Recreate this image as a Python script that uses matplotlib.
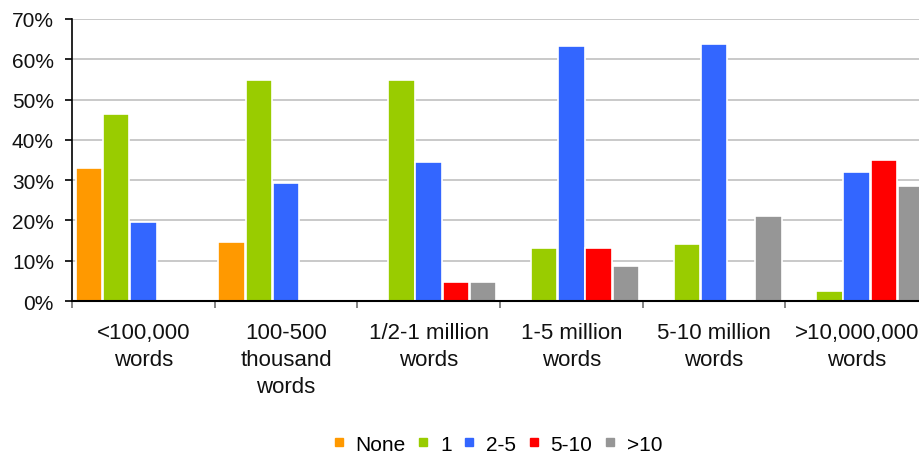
import matplotlib
matplotlib.use("Agg")
import matplotlib.pyplot as plt
from matplotlib.lines import Line2D
from matplotlib.ticker import FixedLocator, PercentFormatter
import numpy as np

categories = ["<100,000\nwords", "100-500\nthousand\nwords", "1/2-1 million\nwords",
              "1-5 million\nwords", "5-10 million\nwords", ">10,000,000\nwords"]
series_names = ["None", "1", "2-5", "5-10", ">10"]
none_vals = [33.0, 14.6, 0, 0, 0, 0]
one_vals = [46.3, 54.8, 54.8, 13.2, 14.1, 2.6]
two_five_vals = [19.5, 29.4, 34.4, 63.2, 63.8, 31.9]
five_ten_vals = [0, 0, 4.6, 13.2, 0, 35.0]
over_ten_vals = [0, 0, 4.6, 8.6, 21.0, 28.5]
colors = ["#FF9900", "#99CC00", "#3366FF", "#FF0000", "#969696"]

plt.rcParams["font.family"] = ["Liberation Sans", "DejaVu Sans"]

fig = plt.figure(figsize=(9.19, 4.56), dpi=100)
ax = fig.add_axes([72 / 919, 154 / 456, 856 / 919, 282 / 456])

x = np.arange(len(categories))
step = 0.1906
width = 0.185
all_vals = [none_vals, one_vals, two_five_vals, five_ten_vals, over_ten_vals]
for k, (vals, col) in enumerate(zip(all_vals, colors)):
    ax.bar(x + (k - 2) * step, vals, width=width, color=col,
           edgecolor="white", linewidth=1.2, zorder=3)

ax.set_xlim(-0.5, len(categories) - 0.5)
ax.set_ylim(0, 70)
ax.yaxis.set_major_locator(FixedLocator(np.arange(0, 71, 10)))
ax.yaxis.set_major_formatter(PercentFormatter(decimals=0))
for yv in range(10, 71, 10):
    ax.axhline(yv, color="#C0C0C0", linewidth=1.2, zorder=1)

ax.set_xticks(np.arange(-0.5, len(categories), 1.0))
ax.set_xticklabels([])
ax.set_xticks(x, minor=True)
ax.set_xticklabels(categories, minor=True, fontsize=16, linespacing=1.38,
                   color="#111111")
ax.tick_params(axis="x", which="major", length=5, width=1.2, color="#707070",
               direction="out")
ax.tick_params(axis="x", which="minor", length=0, pad=15)
ax.tick_params(axis="y", length=5, width=1.2, color="#000000", direction="out",
               labelsize=15, pad=8, labelcolor="#111111")

for side in ["top", "right"]:
    ax.spines[side].set_visible(False)
ax.spines["left"].set_color("#000000")
ax.spines["bottom"].set_color("#000000")
ax.spines["left"].set_linewidth(1.2)
ax.spines["bottom"].set_linewidth(1.5)
ax.spines["left"].set_zorder(4)
ax.spines["bottom"].set_zorder(4)

handles = [Line2D([0], [0], marker="s", linestyle="none", markersize=6,
                  markerfacecolor=c, markeredgecolor=c) for c in colors]
fig.legend(handles, series_names, loc="center", bbox_to_anchor=(0.541, 0.024),
           ncol=5, frameon=False, fontsize=15, handlelength=0.6,
           handletextpad=0.5, columnspacing=0.55, borderpad=0)

fig.savefig("out.png", dpi=100)
